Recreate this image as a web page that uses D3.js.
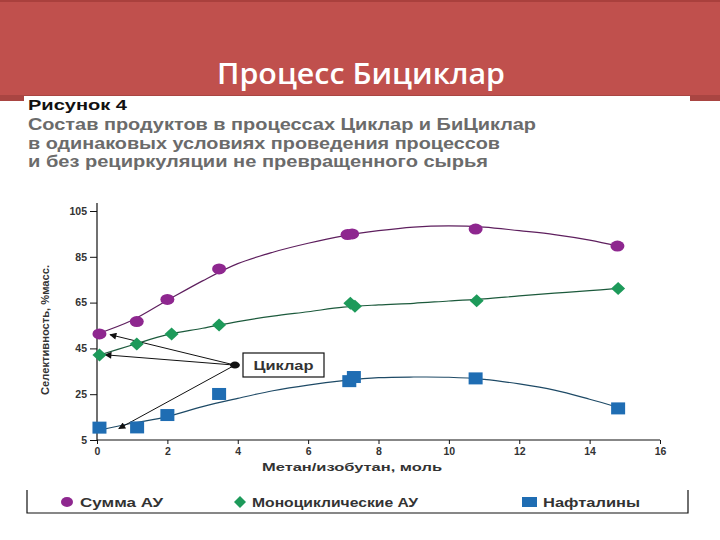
<!DOCTYPE html>
<html><head><meta charset="utf-8">
<script src="https://cdn.jsdelivr.net/npm/d3@7"></script>
<style>body{margin:0;background:#fff}svg{display:block}</style>
</head><body>
<svg id="c" width="720" height="540"></svg>
<script>
// ---- data ----
const yTicks = [5, 25, 45, 65, 85, 105];
const xTicks = [0, 2, 4, 6, 8, 10, 12, 14, 16];
const seriesNames = ["Сумма АУ", "Моноциклические АУ", "Нафталины"];

const sumX = [0.07, 1.13, 2.0, 3.47, 7.12, 7.25, 10.76, 14.79];
const sumY = [51.3, 56.7, 66.4, 79.7, 94.7, 95.0, 97.1, 89.7];
const monoX = [0.07, 1.13, 2.12, 3.47, 7.2, 7.33, 10.79, 14.81];
const monoY = [42.1, 46.9, 51.3, 55.2, 64.7, 63.4, 65.8, 71.2];
const naphX = [0.07, 1.14, 2.0, 3.47, 7.17, 7.3, 10.76, 14.81];
const naphY = [10.4, 10.5, 15.9, 25.1, 30.7, 32.5, 31.9, 18.8];

// trend lines
const trendX = [0, 1, 2, 3, 4, 5, 6, 7, 8, 9, 10, 11, 12, 13, 14, 14.8];
const sumTrend  = [51.3, 57.3, 66.0, 74.5, 82.0, 87.0, 90.9, 94.1, 96.4, 98.0, 98.5, 98.0, 96.4, 94.7, 92.3, 89.7];
const monoTrend = [41.8, 46.5, 51.0, 53.8, 56.7, 59.1, 61.0, 63.0, 64.0, 64.7, 65.7, 66.6, 67.9, 69.1, 70.2, 71.2];
const naphTrend = [9.1, 12.3, 15.2, 19.6, 23.2, 26.5, 29.0, 30.9, 32.2, 32.5, 32.4, 31.5, 29.5, 26.8, 22.8, 19.3];

// annotation "Циклар": origin dot and arrow targets (data units)
const annoLabel = "Циклар";
const annoOrigin = [3.92, 37.7];
const annoTargetsX = [0.37, 0.23, 0.62];
const annoTargetsY = [51.0, 42.2, 10.0];

const pageTitle = "Процесс Бициклар";
const figLabel = "Рисунок 4";
const captionLines = ["Состав продуктов в процессах Циклар и БиЦиклар",
  "в одинаковых условиях проведения процессов",
  "и без рециркуляции не превращенного сырья"];
const yTitle = "Селективность, %масс.";
const xTitle = "Метан/изобутан, моль";

// ---- drawing ----
const svg = d3.select("#c");
const F = "'Liberation Sans', Arial, sans-serif";

// banner
svg.append("rect").attr("x",0).attr("y",0).attr("width",720).attr("height",101).attr("fill","#c0504d");
svg.append("rect").attr("x",0).attr("y",0).attr("width",720).attr("height",2).attr("fill","#a9403d");
svg.append("rect").attr("x",0).attr("y",95).attr("width",720).attr("height",6).attr("fill","#a94542");
svg.append("rect").attr("x",24).attr("y",96).attr("width",666).attr("height",444).attr("fill","#fff");
svg.append("text").attr("x",361).attr("y",84).attr("text-anchor","middle")
  .attr("font-family","'Open Sans', Lato, sans-serif").attr("font-size",29).attr("font-weight",600)
  .attr("fill","#fff").attr("textLength",288).attr("lengthAdjust","spacingAndGlyphs").text(pageTitle);

// caption
svg.append("text").attr("x",28).attr("y",110).attr("font-family",F).attr("font-weight","bold")
  .attr("font-size",14).attr("fill","#111").attr("textLength",99).attr("lengthAdjust","spacingAndGlyphs").text(figLabel);
const capLens = [508, 472, 460];
const capYs = [130, 149, 167];
captionLines.forEach((t,i)=>{
  svg.append("text").attr("x",28).attr("y",capYs[i]).attr("font-family",F).attr("font-weight","bold")
    .attr("font-size",16).attr("fill","#6b6b6b").attr("textLength",capLens[i]).attr("lengthAdjust","spacingAndGlyphs").text(t);
});

const x = d3.scaleLinear().domain([0,16]).range([97,660]);
const y = d3.scaleLinear().domain([5,105]).range([440,211]);

// axes
const gy = svg.append("g").attr("transform","translate(97,0)")
  .call(d3.axisLeft(y).tickValues(yTicks).tickSize(7).tickPadding(3));
gy.select(".domain").attr("d","M0,440V203").attr("stroke","#111").attr("stroke-width",1.2);
const gx = svg.append("g").attr("transform","translate(0,440)")
  .call(d3.axisBottom(x).tickValues(xTicks).tickSize(4).tickPadding(4));
gx.select(".domain").attr("d","M97,0H660").attr("stroke","#111").attr("stroke-width",1.2);
[gx,gy].forEach(g=>{
  g.selectAll("text").attr("font-family",F).attr("font-weight","bold").attr("font-size",10.5).attr("fill","#333");
  g.selectAll(".tick line").attr("stroke","#111");
});

svg.append("text").attr("transform","translate(49,330) rotate(-90)").attr("text-anchor","middle")
  .attr("font-family",F).attr("font-weight","bold").attr("font-size",11.5).attr("fill","#333")
  .attr("textLength",130).attr("lengthAdjust","spacingAndGlyphs").text(yTitle);
svg.append("text").attr("x",352).attr("y",471).attr("text-anchor","middle")
  .attr("font-family",F).attr("font-weight","bold").attr("font-size",11.5).attr("fill","#333")
  .attr("textLength",180).attr("lengthAdjust","spacingAndGlyphs").text(xTitle);

// trend lines
const line = d3.line().x(d=>x(d[0])).y(d=>y(d[1])).curve(d3.curveCatmullRom);
const trends = [[sumTrend,"#5e1f5e"],[monoTrend,"#1c5a3c"],[naphTrend,"#1e4a66"]];
trends.forEach(([vals,col])=>{
  svg.append("path").datum(trendX.map((v,i)=>[v,vals[i]])).attr("d",line)
    .attr("fill","none").attr("stroke",col).attr("stroke-width",1.2);
});

// annotation
const ax0 = x(annoOrigin[0]), ay0 = y(annoOrigin[1]);
svg.append("defs").append("marker").attr("id","ah").attr("viewBox","0 0 10 10").attr("refX",9).attr("refY",5)
  .attr("markerWidth",9).attr("markerHeight",7).attr("orient","auto").attr("markerUnits","userSpaceOnUse")
  .append("path").attr("d","M0,0L10,5L0,10z").attr("fill","#111");
annoTargetsX.forEach((tx,i)=>{
  svg.append("line").attr("x1",ax0).attr("y1",ay0).attr("x2",x(tx)).attr("y2",y(annoTargetsY[i]))
    .attr("stroke","#111").attr("stroke-width",1).attr("marker-end","url(#ah)");
});
svg.append("ellipse").attr("cx",ax0).attr("cy",ay0).attr("rx",5).attr("ry",3.5).attr("fill","#111");
svg.append("rect").attr("x",243).attr("y",353).attr("width",81).attr("height",24)
  .attr("fill","#fff").attr("stroke","#111").attr("stroke-width",1.2);
svg.append("text").attr("x",283.5).attr("y",369.5).attr("text-anchor","middle").attr("font-family",F)
  .attr("font-weight","bold").attr("font-size",12).attr("fill","#333").attr("textLength",60)
  .attr("lengthAdjust","spacingAndGlyphs").text(annoLabel);

// markers
const purple = "#8e278f", green = "#1d9a5a", blue = "#1f6db3";
svg.append("g").selectAll("ellipse").data(sumX.map((v,i)=>[v,sumY[i]])).join("ellipse")
  .attr("cx",d=>x(d[0])).attr("cy",d=>y(d[1])).attr("rx",7).attr("ry",5.5).attr("fill",purple);
svg.append("g").selectAll("path").data(monoX.map((v,i)=>[v,monoY[i]])).join("path")
  .attr("d",d=>{const cx=x(d[0]),cy=y(d[1]);return `M${cx},${cy-6.5}L${cx+7},${cy}L${cx},${cy+6.5}L${cx-7},${cy}Z`;})
  .attr("fill",green);
svg.append("g").selectAll("rect").data(naphX.map((v,i)=>[v,naphY[i]])).join("rect")
  .attr("x",d=>x(d[0])-7).attr("y",d=>y(d[1])-6).attr("width",14).attr("height",12).attr("fill",blue);

// legend
svg.append("path").attr("d","M27,490V513H688V490").attr("fill","none").attr("stroke","#111").attr("stroke-width",1.2);
svg.append("ellipse").attr("cx",67).attr("cy",502).attr("rx",6).attr("ry",5).attr("fill",purple);
svg.append("path").attr("d","M240,496L246,502L240,508L234,502Z").attr("fill",green);
svg.append("rect").attr("x",522).attr("y",497).attr("width",15).attr("height",10).attr("fill",blue);
const legX = [80, 252, 543], legW = [83, 166, 97];
seriesNames.forEach((n,i)=>{
  svg.append("text").attr("x",legX[i]).attr("y",507).attr("font-family",F).attr("font-weight","bold")
    .attr("font-size",12.5).attr("fill","#333").attr("textLength",legW[i]).attr("lengthAdjust","spacingAndGlyphs").text(n);
});
</script>
</body></html>
